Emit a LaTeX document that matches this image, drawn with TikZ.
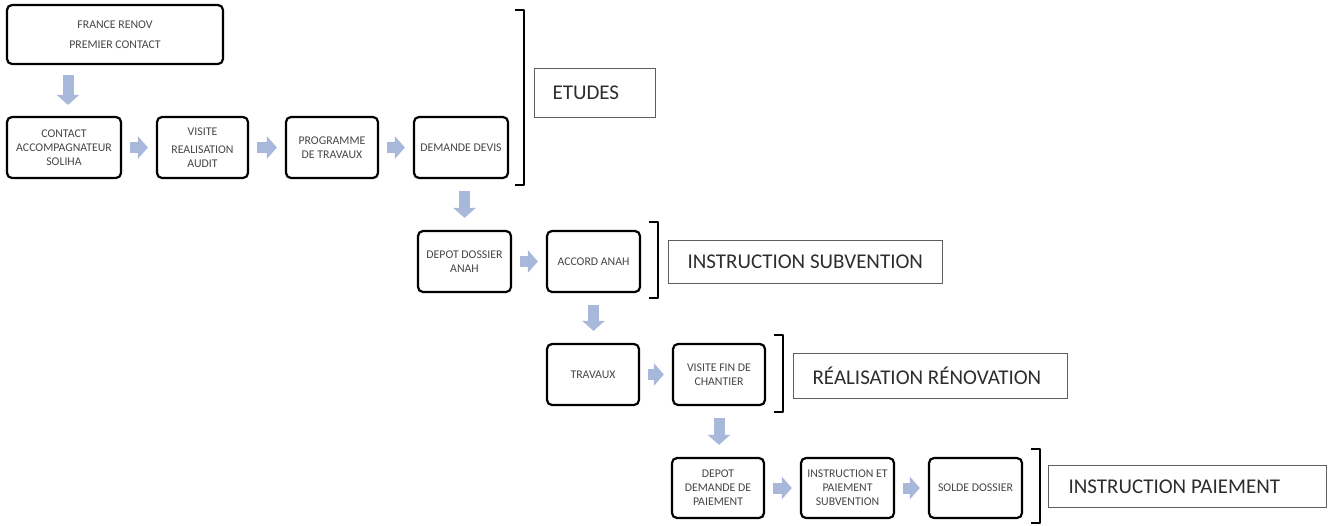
\documentclass[tikz,border=0pt]{standalone}
\usepackage{fontspec}
\setmainfont{Carlito}
\usetikzlibrary{arrows.meta}
\definecolor{arrowblue}{RGB}{168,184,218}
\definecolor{boxtext}{RGB}{70,70,70}
\definecolor{lbltext}{RGB}{45,45,45}
\definecolor{lblline}{RGB}{95,95,95}
\tikzset{
  stepbox/.style={draw=black, line width=2.2pt, rounded corners=5pt, fill=white,
    align=center, text=boxtext, font=\fontsize{11.8}{14}\selectfont, inner sep=1pt},
  lblbox/.style={draw=lblline, line width=1.1pt, anchor=north west,
    text=lbltext, font=\fontsize{21}{24}\selectfont, inner ysep=0pt},
  blockarrow/.style={draw=arrowblue, line width=11pt,
    -{Triangle[width=22pt,length=10pt]}, shorten <=8pt, shorten >=8pt},
  downarrow/.style={blockarrow, shorten <=12pt, shorten >=12pt},
  bracketline/.style={draw=black, line width=2.5pt, line join=round}
}
\begin{document}
\begin{tikzpicture}[x=1pt,y=-1pt]
\useasboundingbox (0,0) rectangle (1333,525);
% row 0
\node[stepbox, minimum width=216pt, minimum height=59pt] (france) at (115,34.5)
  {FRANCE RENOV\\[6pt]PREMIER CONTACT};
% row 1
\node[stepbox, minimum width=114pt, minimum height=61pt] (contact) at (64,147.5)
  {CONTACT\\ACCOMPAGNATEUR\\SOLIHA};
\node[stepbox, minimum width=91pt, minimum height=61pt] (visite) at (202.5,147.5)
  {VISITE\\[4pt]REALISATION\\AUDIT};
\node[stepbox, minimum width=92pt, minimum height=61pt] (programme) at (332,147.5)
  {PROGRAMME\\DE TRAVAUX};
\node[stepbox, minimum width=94pt, minimum height=61pt] (devis) at (461,147.5)
  {DEMANDE DEVIS};
% row 2
\node[stepbox, minimum width=93pt, minimum height=61pt] (depot) at (464.5,261.5)
  {DEPOT DOSSIER\\ANAH};
\node[stepbox, minimum width=93pt, minimum height=61pt] (accord) at (593.5,261.5)
  {ACCORD ANAH};
% row 3
\node[stepbox, minimum width=92pt, minimum height=61pt] (travaux) at (593,374.5)
  {TRAVAUX};
\node[stepbox, minimum width=92pt, minimum height=61pt] (visitefin) at (719,374.5)
  {VISITE FIN DE\\CHANTIER};
% row 4
\node[stepbox, minimum width=92pt, minimum height=60pt] (depotdem) at (718,488)
  {DEPOT\\DEMANDE DE\\PAIEMENT};
\node[stepbox, minimum width=93pt, minimum height=60pt] (instr) at (847.5,488)
  {INSTRUCTION ET\\PAIEMENT\\SUBVENTION};
\node[stepbox, minimum width=93pt, minimum height=60pt] (solde) at (975.5,488)
  {SOLDE DOSSIER};
% phase labels
\node[lblbox, minimum height=49pt, inner xsep=18pt] (etudes) at (534,68)
  {\makebox[85pt][l]{ETUDES}};
\node[lblbox, minimum height=43pt, inner xsep=19pt] (instsub) at (668,240)
  {\makebox[236pt][l]{INSTRUCTION SUBVENTION}};
\node[lblbox, minimum height=45pt, inner xsep=19pt] (realis) at (793,353)
  {\makebox[236pt][l]{RÉALISATION RÉNOVATION}};
\node[lblbox, minimum height=42pt, inner xsep=20pt] (instpai) at (1048,465)
  {\makebox[238pt][l]{INSTRUCTION PAIEMENT}};
% brackets
\draw[bracketline] (515,10) -- (524,10) -- (524,185) -- (515,185);
\draw[bracketline] (649,222) -- (658,222) -- (658,298) -- (649,298);
\draw[bracketline] (774,335) -- (783,335) -- (783,412) -- (774,412);
\draw[bracketline] (1031,449) -- (1040,449) -- (1040,523) -- (1031,523);
% horizontal arrows
\draw[blockarrow] (contact.east) -- (visite.west);
\draw[blockarrow] (visite.east) -- (programme.west);
\draw[blockarrow] (programme.east) -- (devis.west);
\draw[blockarrow] (depot.east) -- (accord.west);
\draw[blockarrow] (travaux.east) -- (visitefin.west);
\draw[blockarrow] (depotdem.east) -- (instr.west);
\draw[blockarrow] (instr.east) -- (solde.west);
% vertical arrows
\draw[downarrow, shorten <=10pt, shorten >=11pt] ([xshift=4pt]contact.north |- france.south) -- ([xshift=4pt]contact.north);
\draw[downarrow] (depot.north |- devis.south) -- (depot.north);
\draw[downarrow] (accord.south) -- (accord.south |- travaux.north);
\draw[downarrow] (visitefin.south) -- (visitefin.south |- depotdem.north);
\end{tikzpicture}
\end{document}
